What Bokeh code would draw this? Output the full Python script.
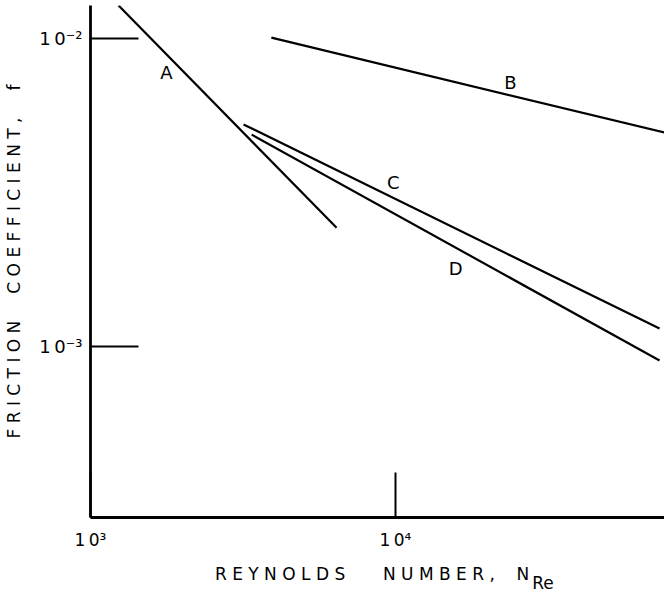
from bokeh.plotting import figure
from bokeh.models import FixedTicker
from bokeh.core.properties import value
from bokeh.embed import file_html
from bokeh.resources import INLINE

# ---------------- data ----------------
re_range = (1000, 76200)
f_range = (2.786e-4, 0.0128)

A_re = [1236, 6410]
A_f = [0.0128, 0.00243]
B_re = [3917, 76200]
B_f = [0.01007, 0.00495]
C_re = [3175, 73400]
C_f = [0.00526, 0.001144]
D_re = [3377, 73400]
D_f = [0.004874, 0.0009005]

curve_names = ["A", "B", "C", "D"]
name_re = [1775, 23800, 9840, 15740]
name_f = [0.00776, 0.00720, 0.00341, 0.00179]

x_ticks = [1e3, 1e4]
x_tick_labels = ["1\u20090\u00b3", "1\u20090\u2074"]
y_ticks = [1e-3, 1e-2]
y_tick_labels = ["1\u20090\u207b\u00b3", "1\u20090\u207b\u00b2"]

x_title = "REYNOLDS NUMBER, N"
x_title_sub = "Re"
y_title = "FRICTION COEFFICIENT, f"

FONT = "DejaVu Sans"
NB = "\u00a0"
TH = "\u2009"


def spaced(s, gaps):
    words = s.split(" ")
    out = NB.join(words[0])
    for g, w in zip(gaps, words[1:]):
        out += NB * g + NB.join(w)
    return out


p = figure(width=664, height=596, x_axis_type="log", y_axis_type="log",
           x_range=re_range, y_range=f_range, output_backend="svg",
           toolbar_location=None, min_border_left=90, min_border_right=0,
           min_border_top=5, min_border_bottom=79)
p.background_fill_color = "white"
p.border_fill_color = "white"
p.outline_line_color = None
p.xgrid.visible = False
p.ygrid.visible = False

for xs, ys in [(A_re, A_f), (B_re, B_f), (C_re, C_f), (D_re, D_f)]:
    p.line(xs, ys, line_width=2.2, line_color="black")

p.text(name_re, name_f, text=curve_names, text_align="center",
       text_baseline="middle", text_font=value(FONT), text_font_size="18px",
       text_color="black")

for ax, ticks, labels, tin in [(p.xaxis[0], x_ticks, x_tick_labels, 45),
                               (p.yaxis[0], y_ticks, y_tick_labels, 48)]:
    ax.ticker = FixedTicker(ticks=ticks)
    ax.major_label_overrides = {t: l for t, l in zip(ticks, labels)}
    ax.major_tick_in = tin
    ax.major_tick_out = 0
    ax.minor_tick_line_color = None
    ax.axis_line_width = 2.8
    ax.axis_line_color = "black"
    ax.major_tick_line_width = 2
    ax.major_tick_line_color = "black"
    ax.major_label_text_font = FONT
    ax.major_label_text_color = "black"
    ax.axis_label_text_font = FONT
    ax.axis_label_text_font_style = "normal"
    ax.axis_label_text_font_size = "17px"
    ax.axis_label_text_color = "black"

# x title: main text on line 1, subscript on a tightly spaced line 2
line1 = NB * 3 + spaced(x_title, [7, 4]) + NB * 5
line2 = NB * 60 + TH * 2 + x_title_sub
p.xaxis[0].major_label_text_font_size = "17px"
p.xaxis[0].major_label_standoff = 12
p.xaxis[0].axis_label = line1 + "\n" + line2
p.xaxis[0].axis_label_text_line_height = 0.45
p.xaxis[0].axis_label_standoff = 11

p.yaxis[0].major_label_text_font_size = "18px"
p.yaxis[0].major_label_standoff = 8
p.yaxis[0].axis_label = spaced(y_title, [5, 5])
p.yaxis[0].axis_label_standoff = 12

open("out.html", "w").write(file_html(p, INLINE))
